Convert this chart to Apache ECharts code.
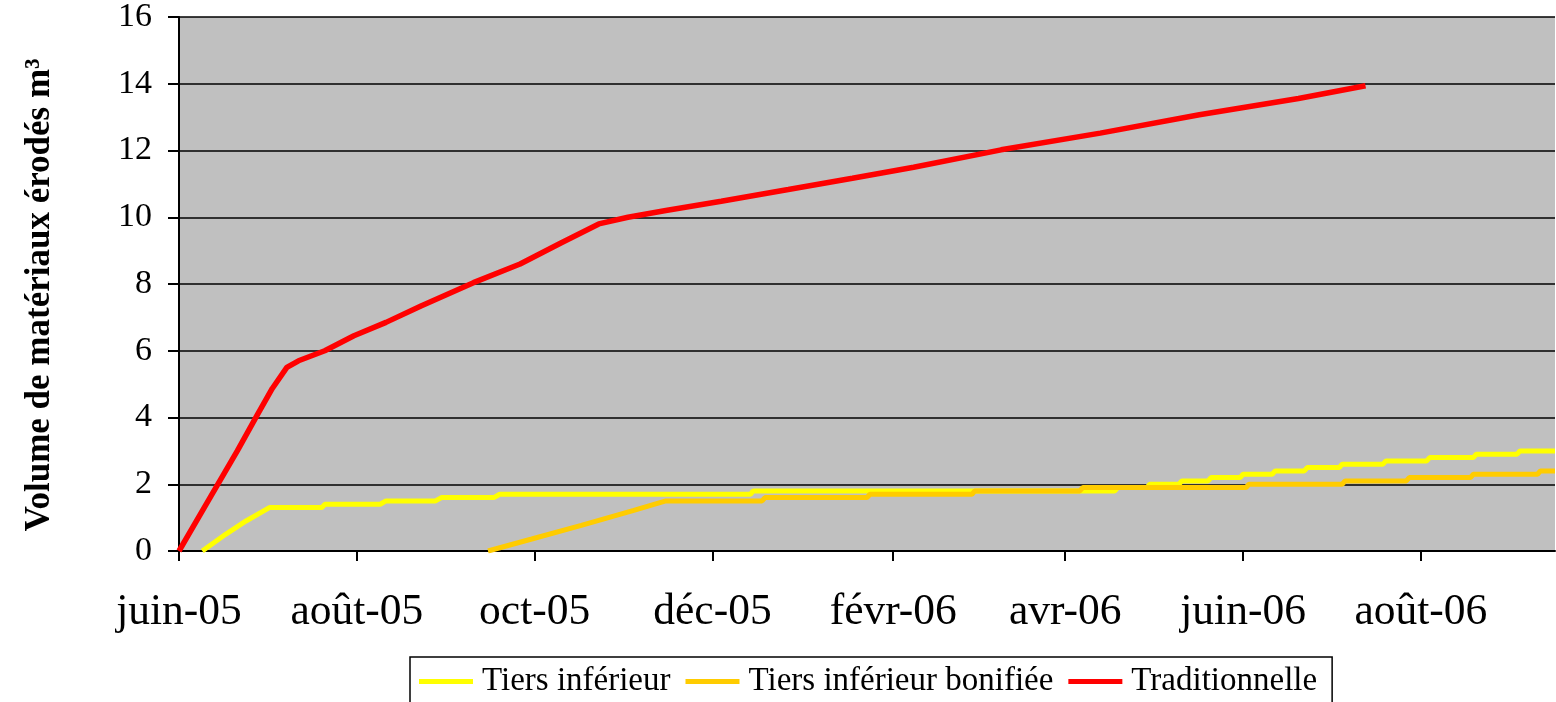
<!DOCTYPE html>
<html>
<head>
<meta charset="utf-8">
<script src="https://cdn.jsdelivr.net/npm/echarts@6/dist/echarts.min.js"></script>
<style>
html,body{margin:0;padding:0;background:#fff;}
#chart{width:1556px;height:702px;}
</style>
</head>
<body>
<div id="chart"></div>
<script>
// ---- data ----
const tierDates = ['2005-06-09','2005-06-17','2005-06-24','2005-07-02','2005-07-20','2005-07-21','2005-08-09','2005-08-11','2005-08-28','2005-08-30','2005-09-17','2005-09-19','2005-12-14','2005-12-15','2006-04-18','2006-04-19','2006-04-29','2006-04-30','2006-05-10','2006-05-11','2006-05-20','2006-05-21','2006-05-31','2006-06-01','2006-06-11','2006-06-12','2006-06-22','2006-06-23','2006-07-04','2006-07-05','2006-07-19','2006-07-20','2006-08-03','2006-08-04','2006-08-19','2006-08-20','2006-09-03','2006-09-04','2006-09-16'];
const tierValues = [0,0.5,0.9,1.3,1.3,1.4,1.4,1.5,1.5,1.6,1.6,1.7,1.7,1.8,1.8,1.9,1.9,2.0,2.0,2.1,2.1,2.2,2.2,2.3,2.3,2.4,2.4,2.5,2.5,2.6,2.6,2.7,2.7,2.8,2.8,2.9,2.9,3.0,3.0];

const bonDates = ['2005-09-15','2005-09-30','2005-10-17','2005-11-04','2005-11-15','2005-12-18','2005-12-19','2006-01-23','2006-01-24','2006-02-28','2006-03-01','2006-04-06','2006-04-07','2006-06-02','2006-06-03','2006-07-05','2006-07-06','2006-07-27','2006-07-28','2006-08-18','2006-08-19','2006-09-10','2006-09-11','2006-09-16'];
const bonValues = [0,0.36,0.77,1.22,1.5,1.5,1.6,1.6,1.7,1.7,1.8,1.8,1.9,1.9,2.0,2.0,2.1,2.1,2.2,2.2,2.3,2.3,2.4,2.4];

const tradDates = ['2005-06-01','2005-06-11','2005-06-21','2005-06-28','2005-07-03','2005-07-08','2005-07-12','2005-07-21','2005-07-31','2005-08-11','2005-08-23','2005-09-10','2005-09-26','2005-10-10','2005-10-23','2005-11-02','2005-11-15','2005-12-04','2005-12-27','2006-01-18','2006-02-08','2006-03-10','2006-04-13','2006-05-17','2006-06-20','2006-07-13'];
const tradValues = [0,1.5,3.0,4.1,4.87,5.5,5.7,6.0,6.45,6.85,7.34,8.04,8.6,9.23,9.8,10.0,10.2,10.48,10.83,11.17,11.5,12.02,12.52,13.07,13.56,13.94];

const tickDates = ['2005-06-01','2005-08-01','2005-10-01','2005-12-01','2006-02-01','2006-04-01','2006-06-01','2006-08-01'];
const tickLabels = ['juin-05','août-05','oct-05','déc-05','févr-06','avr-06','juin-06','août-06'];
const seriesNames = ['Tiers inférieur','Tiers inférieur bonifiée','Traditionnelle'];
const xMin = '2005-06-01', xMax = '2006-09-16';

// ---- build ----
const ts = s => { const p = s.split('-').map(Number); return Date.UTC(p[0], p[1]-1, p[2]); };
const pairs = (d, v) => d.map((x, i) => [ts(x), v[i]]);
const tickTs = tickDates.map(ts);
const labelMap = {};
tickTs.forEach((t, i) => labelMap[t] = tickLabels[i]);

const FONT = '"Liberation Serif", "Times New Roman", serif';
const chart = echarts.init(document.getElementById('chart'), null, {renderer: 'canvas'});
chart.setOption({
  animation: false,
  backgroundColor: '#ffffff',
  grid: {left: 179, right: 1, top: 15, bottom: 151, show: true, backgroundColor: '#C0C0C0', borderWidth: 0},
  legend: {
    left: 410, top: 657,
    padding: [8, 15, 8, 9],
    itemGap: 15,
    itemWidth: 54, itemHeight: 5,
    icon: 'rect',
    borderColor: '#000', borderWidth: 1.5, backgroundColor: '#fff',
    textStyle: {fontFamily: FONT, fontSize: 33, color: '#000', padding: [0, 0, 0, 4]},
    data: seriesNames
  },
  xAxis: {
    type: 'value',
    min: ts(xMin), max: ts(xMax),
    axisLine: {show: true, onZero: false, lineStyle: {color: '#000', width: 2}},
    axisTick: {show: true, length: 10, lineStyle: {color: '#000', width: 2}, customValues: tickTs},
    axisLabel: {
      customValues: tickTs,
      showMinLabel: true,
      hideOverlap: false,
      fontFamily: FONT, fontSize: 43.5, color: '#000', margin: 40,
      formatter: v => labelMap[v] !== undefined ? labelMap[v] : ''
    },
    splitLine: {show: false}
  },
  yAxis: {
    type: 'value', min: 0, max: 16, interval: 2,
    name: 'Volume de matériaux érodés m³',
    nameLocation: 'middle', nameRotate: 90, nameGap: 122,
    nameTextStyle: {fontFamily: FONT, fontSize: 35, fontWeight: 'bold', color: '#000', padding: [0, 22, 0, 0]},
    axisLine: {show: true, lineStyle: {color: '#000', width: 2}},
    axisTick: {show: true, length: 11, lineStyle: {color: '#000', width: 2}},
    axisLabel: {fontFamily: FONT, fontSize: 34, color: '#000', margin: 27},
    splitLine: {show: true, lineStyle: {color: '#000', width: 1.5}}
  },
  series: [
    {name: seriesNames[0], type: 'line', symbol: 'none', color: '#FFFF00', lineStyle: {width: 5, color: '#FFFF00'}, data: pairs(tierDates, tierValues)},
    {name: seriesNames[1], type: 'line', symbol: 'none', color: '#FFCC00', lineStyle: {width: 5, color: '#FFCC00'}, data: pairs(bonDates, bonValues)},
    {name: seriesNames[2], type: 'line', symbol: 'none', color: '#FF0000', lineStyle: {width: 5.5, color: '#FF0000'}, data: pairs(tradDates, tradValues)}
  ]
});
</script>
</body>
</html>
